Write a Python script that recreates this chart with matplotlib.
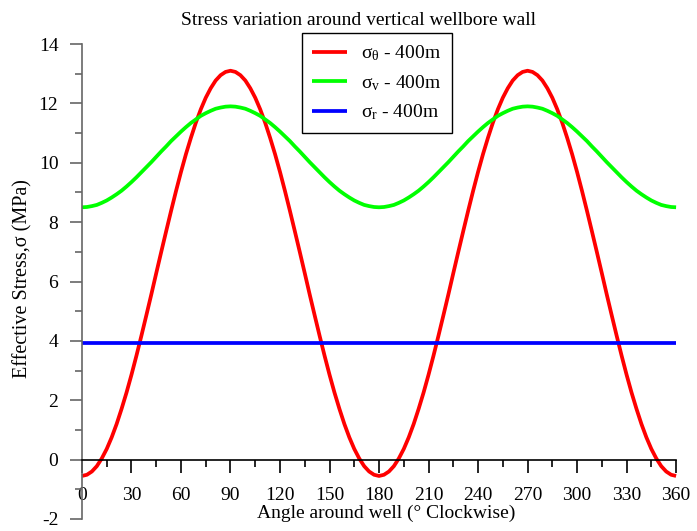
import numpy as np
import matplotlib
matplotlib.use("Agg")
import matplotlib.pyplot as plt
from matplotlib.ticker import MultipleLocator

plt.rcParams['font.family'] = ['Liberation Serif', 'DejaVu Serif']
plt.rcParams['mathtext.fontset'] = 'stix'
plt.rcParams['axes.unicode_minus'] = False

# angle around the well, degrees (3 degree steps)
angle = list(range(0, 361, 3))

# hoop stress sigma_theta (MPa)
sigma_theta = [
    -0.55, -0.51, -0.40, -0.22, 0.04, 0.36, 0.75, 1.20, 1.71, 2.26,
    2.86, 3.50, 4.17, 4.86, 5.56, 6.28, 6.99, 7.69, 8.38, 9.05,
    9.69, 10.29, 10.84, 11.35, 11.80, 12.19, 12.51, 12.77, 12.95, 13.06,
    13.10, 13.06, 12.95, 12.77, 12.51, 12.19, 11.80, 11.35, 10.84, 10.29,
    9.69, 9.05, 8.38, 7.69, 6.99, 6.28, 5.56, 4.86, 4.17, 3.50,
    2.86, 2.26, 1.71, 1.20, 0.75, 0.36, 0.04, -0.22, -0.40, -0.51,
    -0.55, -0.51, -0.40, -0.22, 0.04, 0.36, 0.75, 1.20, 1.71, 2.26,
    2.86, 3.50, 4.17, 4.86, 5.56, 6.28, 6.99, 7.69, 8.38, 9.05,
    9.69, 10.29, 10.84, 11.35, 11.80, 12.19, 12.51, 12.77, 12.95, 13.06,
    13.10, 13.06, 12.95, 12.77, 12.51, 12.19, 11.80, 11.35, 10.84, 10.29,
    9.69, 9.05, 8.38, 7.69, 6.99, 6.28, 5.56, 4.86, 4.17, 3.50,
    2.86, 2.26, 1.71, 1.20, 0.75, 0.36, 0.04, -0.22, -0.40, -0.51,
    -0.55,
]

# vertical stress sigma_v (MPa)
sigma_v = [
    8.50, 8.51, 8.54, 8.58, 8.65, 8.73, 8.83, 8.94, 9.06, 9.20,
    9.35, 9.51, 9.68, 9.85, 10.02, 10.20, 10.38, 10.55, 10.73, 10.89,
    11.05, 11.20, 11.34, 11.46, 11.58, 11.67, 11.75, 11.82, 11.86, 11.89,
    11.90, 11.89, 11.86, 11.82, 11.75, 11.67, 11.58, 11.46, 11.34, 11.20,
    11.05, 10.89, 10.73, 10.55, 10.38, 10.20, 10.02, 9.85, 9.68, 9.51,
    9.35, 9.20, 9.06, 8.94, 8.83, 8.73, 8.65, 8.58, 8.54, 8.51,
    8.50, 8.51, 8.54, 8.58, 8.65, 8.73, 8.83, 8.94, 9.06, 9.20,
    9.35, 9.51, 9.68, 9.85, 10.02, 10.20, 10.38, 10.55, 10.73, 10.89,
    11.05, 11.20, 11.34, 11.46, 11.58, 11.67, 11.75, 11.82, 11.86, 11.89,
    11.90, 11.89, 11.86, 11.82, 11.75, 11.67, 11.58, 11.46, 11.34, 11.20,
    11.05, 10.89, 10.73, 10.55, 10.38, 10.20, 10.02, 9.85, 9.68, 9.51,
    9.35, 9.20, 9.06, 8.94, 8.83, 8.73, 8.65, 8.58, 8.54, 8.51,
    8.50,
]

# radial stress sigma_r (MPa), flat
sigma_r = [3.92] * len(angle)

labels = [r'$\mathregular{\sigma_{\theta}}$ - 400m',
          r'$\mathregular{\sigma_{v}}$ - 400m',
          r'$\mathregular{\sigma_{r}}$ - 400m']
colors = ['#ff0000', '#00ff00', '#0000ff']

fig = plt.figure(figsize=(6.97, 5.31), dpi=100)
ax = fig.add_axes([0.1176, 0.0226, 0.8524, 0.8945])

for y, lab, c in zip([sigma_theta, sigma_v, sigma_r], labels, colors):
    ax.plot(angle, y, color=c, linewidth=2.7, label=lab, clip_on=False,
            solid_capstyle='butt')

ax.set_xlim(0, 360)
ax.set_ylim(-2, 14)

# x axis sits on y = 0
ax.spines['bottom'].set_position(('data', 0))
ax.spines['top'].set_visible(False)
ax.spines['right'].set_visible(False)
ax.spines['left'].set_color('#666666')
ax.spines['left'].set_linewidth(1.2)
ax.spines['bottom'].set_linewidth(1.2)

ax.xaxis.set_major_locator(MultipleLocator(30))
ax.xaxis.set_minor_locator(MultipleLocator(15))
ax.yaxis.set_major_locator(MultipleLocator(2))
ax.yaxis.set_minor_locator(MultipleLocator(1))

ax.tick_params(axis='x', which='major', direction='out', length=9, width=1.2,
               labelsize=14, pad=11)
ax.tick_params(axis='x', which='minor', direction='out', length=5, width=1.2)
ax.tick_params(axis='y', which='major', direction='out', length=9, width=1.2,
               color='#666666', labelsize=14, pad=8)
ax.tick_params(axis='y', which='minor', direction='out', length=5, width=1.2,
               color='#666666')

ax.set_title('Stress variation around vertical wellbore wall', fontsize=14,
             pad=14, x=0.466)
ax.set_xlabel('Angle around well (\u00b0 Clockwise)', fontsize=14)
ax.xaxis.set_label_coords(0.512, 0.03)
ax.set_ylabel('Effective Stress,\u03c3 (MPa)', fontsize=14.5)
ax.yaxis.set_label_coords(-0.083, 0.507)

leg = ax.legend(loc='upper left', bbox_to_anchor=(0.370, 1.023), fontsize=14,
                fancybox=False, edgecolor='black', framealpha=1,
                handlelength=1.8, handletextpad=0.67, borderpad=0.55,
                labelspacing=0.5, borderaxespad=0)
leg.get_frame().set_linewidth(1.0)

fig.savefig('out.png', dpi=100)
